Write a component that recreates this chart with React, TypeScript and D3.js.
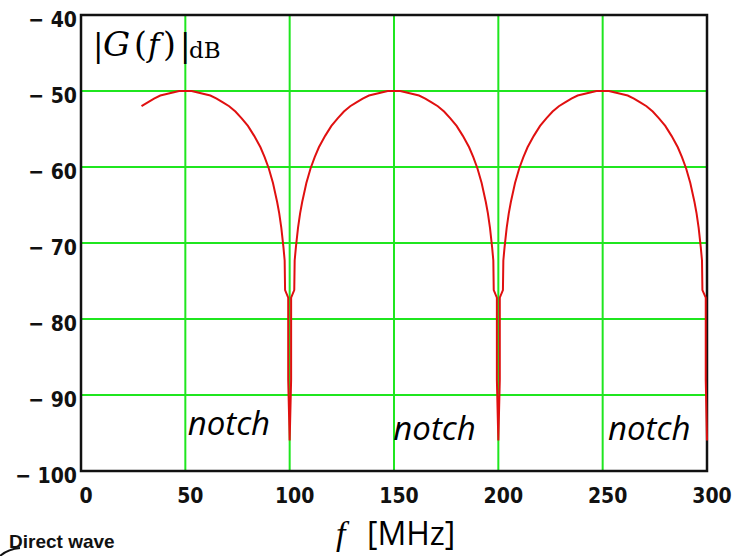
import React from "react";
import * as d3 from "d3";

// tick values
const xTicks = [0, 50, 100, 150, 200, 250, 300];
const yTicks = [-40, -50, -60, -70, -80, -90, -100];

// curve, one lobe at a time
const lobe1F = [29, 32, 35, 38, 41, 44, 47, 50, 53, 56, 59, 62, 65, 68, 71, 74, 77, 80, 83, 86, 88, 90, 92, 94, 95, 96, 97, 97.6, 97.8, 99.3, 99.3, 100];
const lobe1Db = [-52.0, -51.5, -51.0, -50.6, -50.4, -50.2, -50.0, -50, -50.0, -50.2, -50.4, -50.6, -51.0, -51.5, -52.0, -52.7, -53.6, -54.6, -55.9, -57.4, -58.7, -60.2, -62.1, -64.6, -66.1, -68.0, -70.5, -72.3, -76.2, -77.2, -88, -96];

const lobe2F = [100, 100.7, 100.7, 102.2, 102.4, 103, 104, 105, 106, 108, 110, 112, 114, 117, 120, 123, 126, 129, 132, 135, 138, 141, 144, 147, 150, 153, 156, 159, 162, 165, 168, 171, 174, 177, 180, 183, 186, 188, 190, 192, 194, 195, 196, 197, 197.6, 197.8, 199.3, 199.3, 200];
const lobe2Db = [-96, -88, -77.2, -76.2, -72.3, -70.5, -68.0, -66.1, -64.6, -62.1, -60.2, -58.7, -57.4, -55.9, -54.6, -53.6, -52.7, -52.0, -51.5, -51.0, -50.6, -50.4, -50.2, -50.0, -50, -50.0, -50.2, -50.4, -50.6, -51.0, -51.5, -52.0, -52.7, -53.6, -54.6, -55.9, -57.4, -58.7, -60.2, -62.1, -64.6, -66.1, -68.0, -70.5, -72.3, -76.2, -77.2, -88, -96];

const lobe3F = [200, 200.7, 200.7, 202.2, 202.4, 203, 204, 205, 206, 208, 210, 212, 214, 217, 220, 223, 226, 229, 232, 235, 238, 241, 244, 247, 250, 253, 256, 259, 262, 265, 268, 271, 274, 277, 280, 283, 286, 288, 290, 292, 294, 295, 296, 297, 297.6, 297.8, 299.4, 299.4, 300];
const lobe3Db = [-96, -88, -77.2, -76.2, -72.3, -70.5, -68.0, -66.1, -64.6, -62.1, -60.2, -58.7, -57.4, -55.9, -54.6, -53.6, -52.7, -52.0, -51.5, -51.0, -50.6, -50.4, -50.2, -50.0, -50, -50.0, -50.2, -50.4, -50.6, -51.0, -51.5, -52.0, -52.7, -53.6, -54.6, -55.9, -57.4, -58.7, -60.2, -62.1, -64.6, -66.1, -68.0, -70.5, -72.3, -76.2, -77.2, -88, -96];

const notchLabels = ["notch", "notch", "notch"];
const notchAt = [100, 200, 300];

export default function App() {
  const W = 735;
  const H = 556;
  const x = d3.scaleLinear().domain([0, 300]).range([81, 707]);
  const y = d3.scaleLinear().domain([-100, -40]).range([471, 15]);

  const fs = [...lobe1F, ...lobe2F, ...lobe3F];
  const ds = [...lobe1Db, ...lobe2Db, ...lobe3Db];
  const pts: [number, number][] = fs.map((f, i) => [f, ds[i]]);
  const line = d3
    .line<[number, number]>()
    .x((d) => x(d[0]))
    .y((d) => y(d[1]));

  const green = "#1fe61f";
  const tickFont = "'DejaVu Sans Condensed', 'DejaVu Sans', sans-serif";
  const serif = "'DejaVu Serif', 'Liberation Serif', serif";
  const notchShift = [-102, -105, -99];

  return (
    <svg width={W} height={H} style={{ position: "absolute", left: 0, top: 0, background: "#fff" }}>
      {/* grid */}
      {xTicks.slice(1, -1).map((t) => (
        <line key={"gx" + t} x1={x(t)} x2={x(t)} y1={y(-40)} y2={y(-100)} stroke={green} strokeWidth={2} />
      ))}
      {yTicks.slice(1, -1).map((t) => (
        <line key={"gy" + t} x1={x(0)} x2={x(300)} y1={y(t)} y2={y(t)} stroke={green} strokeWidth={2} />
      ))}

      {/* frame */}
      <rect x={x(0)} y={y(-40)} width={x(300) - x(0)} height={y(-100) - y(-40)} fill="none" stroke="#111" strokeWidth={2.5} />

      {/* curve */}
      <path d={line(pts) || ""} fill="none" stroke="#e01010" strokeWidth={2} strokeLinejoin="miter" />

      {/* y tick labels */}
      {yTicks.map((t) => (
        <text key={"ty" + t} x={77} y={y(t) + 12} textAnchor="end" fontFamily={tickFont} fontWeight="bold" fontSize={21} fill="#111">
          {"\u2212 " + Math.abs(t)}
        </text>
      ))}

      {/* x tick labels */}
      {xTicks.map((t) => (
        <text key={"tx" + t} x={x(t) + 5} y={503} textAnchor="middle" fontFamily={tickFont} fontWeight="bold" fontSize={21} fill="#111">
          {t}
        </text>
      ))}

      {/* title inside plot */}
      <text y={56} fontFamily={serif} fontSize={31} fill="#000">
        <tspan x={93}>|</tspan>
        <tspan x={103} fontStyle="italic" fontSize={34}>G</tspan>
        <tspan x={134} fontSize={33}>(</tspan>
        <tspan x={148} fontStyle="italic">f</tspan>
        <tspan x={163} fontSize={33}>)</tspan>
        <tspan x={180}>|</tspan>
        <tspan x={189} y={58} fontSize={23}>dB</tspan>
      </text>

      {/* notch labels */}
      {notchLabels.map((s, i) => (
        <text
          key={"n" + i}
          x={x(notchAt[i]) + notchShift[i]}
          y={i === 0 ? 435 : 440}
          fontFamily="'Open Sans', sans-serif"
          fontStyle="italic"
          fontSize={33}
          fill="#000"
        >
          {s}
        </text>
      ))}

      {/* x axis label */}
      <text y={545} fill="#000">
        <tspan x={336} fontFamily="'Liberation Serif', serif" fontStyle="italic" fontSize={34}>f</tspan>
        <tspan x={367} fontFamily="'Open Sans', sans-serif" fontSize={32}>[MHz]</tspan>
      </text>

      {/* cropped fragment at bottom-left */}
      <path d="M0,556 Q8,549 20,548" fill="none" stroke="#111" strokeWidth={2} />
      <text x={9} y={548} fontFamily="'Liberation Sans', sans-serif" fontWeight="bold" fontSize={19} fill="#111">
        Direct wave
      </text>
    </svg>
  );
}
